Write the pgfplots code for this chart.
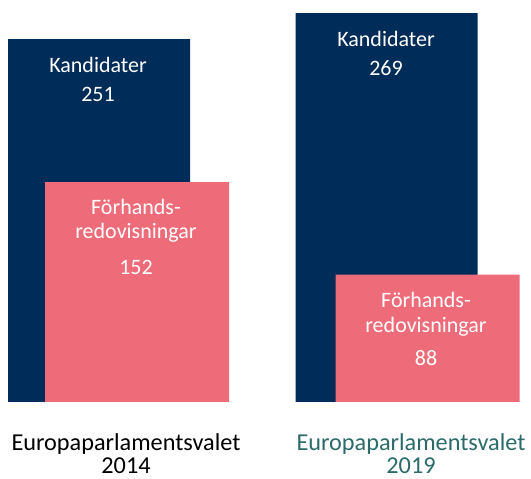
\documentclass[border=0pt]{standalone}
\usepackage{pgfplots}
\pgfplotsset{compat=1.18}
\usepackage{fontspec}
\setmainfont{Carlito}
\definecolor{navy}{HTML}{002C5A}
\definecolor{pinkbar}{HTML}{EE6C7A}
\definecolor{tealtxt}{HTML}{2A6B6A}
\begin{document}
\begin{tikzpicture}
\begin{axis}[
  hide axis, scale only axis,
  width=398.25pt, height=358.5pt,
  xmin=0, xmax=531, ymin=-52.56, ymax=278.0,
  clip=false,
]
\path (axis cs:0,-52.56) rectangle (axis cs:531,278.0);
% Kandidater
\addplot[ybar, bar shift=0pt, bar width=182, fill=navy, draw=none] coordinates {(99,251) (386.5,269)};
% Förhandsredovisningar
\addplot[ybar, bar shift=0pt, bar width=184, fill=pinkbar, draw=none] coordinates {(137,152) (427.5,88)};
\begin{scope}[every node/.style={font=\fontsize{16.5}{19}\selectfont, text=white, anchor=center, inner sep=0pt}]
\node at (axis cs:98,233) {Kandidater};
\node at (axis cs:98,213) {251};
\node at (axis cs:386,251) {Kandidater};
\node at (axis cs:386,231) {269};
\node at (axis cs:136,135) {Förhands-};
\node at (axis cs:136,117) {redovisningar};
\node at (axis cs:136,93) {152};
\node at (axis cs:426,70.5) {Förhands-};
\node at (axis cs:426,52) {redovisningar};
\node at (axis cs:426,30.4) {88};
\end{scope}
\begin{scope}[every node/.style={font=\fontsize{18.2}{20}\selectfont, anchor=center, inner sep=0pt}]
\node at (axis cs:126,-29) {Europaparlamentsvalet};
\node at (axis cs:126,-44.3) {2014};
\node[text=tealtxt] at (axis cs:411,-29) {Europaparlamentsvalet};
\node[text=tealtxt] at (axis cs:411,-44.3) {2019};
\end{scope}
\end{axis}
\end{tikzpicture}
\end{document}
